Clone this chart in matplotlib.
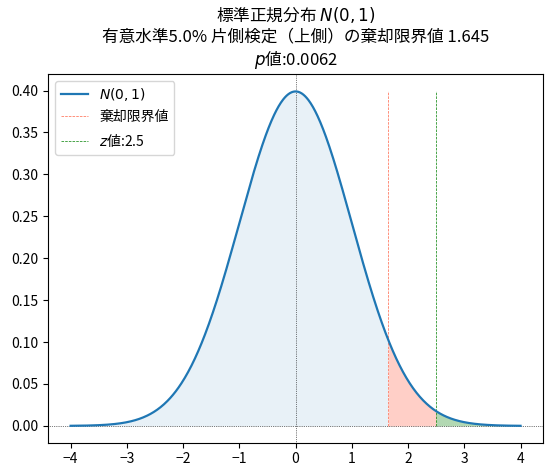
import numpy as np
import matplotlib
matplotlib.use("Agg")
import matplotlib.pyplot as plt

plt.rcParams['font.family'] = ['Noto Sans CJK JP', 'DejaVu Sans']
plt.rcParams['axes.unicode_minus'] = True

x_range = [-4.0, 4.0]
mu = 0.0
sigma = 1.0
critical_value = 1.645
z_value = 2.5
p_value = 0.0062
alpha_pct = 5.0
vline_top = 0.4

x = np.linspace(x_range[0], x_range[1], 801)
y = np.exp(-0.5 * ((x - mu) / sigma) ** 2) / (sigma * np.sqrt(2 * np.pi))

fig, ax = plt.subplots(figsize=(5.53, 4.76), dpi=100)
ax.plot(x, y, color='tab:blue', lw=1.6, label='$N(0,1)$', zorder=3)
m_blue = x <= critical_value
ax.fill_between(x[m_blue], y[m_blue], 0, color='tab:blue', alpha=0.1, lw=0)
m_red = (x >= critical_value) & (x <= z_value)
ax.fill_between(x[m_red], y[m_red], 0, color='tomato', alpha=0.3, lw=0)
m_grn = x >= z_value
ax.fill_between(x[m_grn], y[m_grn], 0, color='green', alpha=0.3, lw=0)
ax.vlines(critical_value, 0, vline_top, color='tomato', lw=0.5, ls='--', label='棄却限界値')
ax.vlines(z_value, 0, vline_top, color='green', lw=0.5, ls='--', label=f'$z$値:{z_value}')
ax.axhline(0, color='k', lw=0.5, ls=':')
ax.axvline(0, color='k', lw=0.5, ls=':')
ax.set_title(f'標準正規分布 $N(0,1)$\n有意水準{alpha_pct}% 片側検定（上側）の棄却限界値 {critical_value}\n$p$値:{p_value}')
ax.legend(loc='upper left')
fig.subplots_adjust(left=0.087, right=0.982, top=0.845, bottom=0.07)
fig.savefig('out.png', dpi=100)
